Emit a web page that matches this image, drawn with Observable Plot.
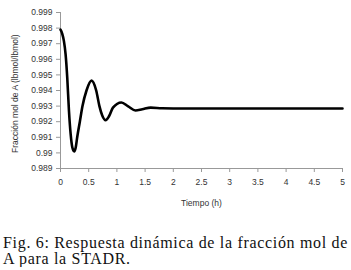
<!DOCTYPE html>
<html><head><meta charset="utf-8">
<script src="https://cdn.jsdelivr.net/npm/d3@7"></script>
<script src="https://cdn.jsdelivr.net/npm/@observablehq/plot@0.6"></script>
<style>
body{margin:0;background:#fff;}
#cap{font-family:"Liberation Serif","DejaVu Serif",serif;font-size:16px;letter-spacing:0.68px;line-height:16px;color:#111;margin:25px 0 0 3px;white-space:nowrap;}
</style>
</head><body>
<div id="chart"></div>
<div id="cap">Fig. 6: Respuesta dinámica de la fracción mol de<br>A para la STADR.</div>
<script>
const tiempo = [0,0.03,0.06,0.09,0.12,0.15,0.18,0.21,0.243,0.27,0.296,0.343,0.39,0.461,0.55,0.633,0.69,0.74,0.80,0.86,0.93,1.08,1.2,1.33,1.45,1.6,1.8,2.0,3,4,5];
const fraccion = [0.99790,0.99765,0.99718,0.99633,0.99480,0.99270,0.99120,0.99035,0.99010,0.99035,0.99100,0.99200,0.99300,0.99400,0.99463,0.99400,0.99300,0.99240,0.99210,0.99235,0.99290,0.99323,0.99298,0.99272,0.99280,0.99290,0.99286,0.99285,0.99285,0.99285,0.99285];
const xTicks = [0,0.5,1,1.5,2,2.5,3,3.5,4,4.5,5];
const yTicks = [0.989,0.990,0.991,0.992,0.993,0.994,0.995,0.996,0.997,0.998,0.999];
const data = tiempo.map((t,i)=>({t, f: fraccion[i]}));
const yFmt = d=>d3.format(".3f")(d).replace(/0+$/,"").replace(/\.$/,"");
const chart = Plot.plot({
  width:351, height:210,
  marginTop:12, marginBottom:42, marginLeft:60, marginRight:9,
  style:{fontFamily:"'Liberation Sans', sans-serif", fontSize:"8.5px", color:"#333", background:"#fff"},
  x:{domain:[0,5], label:null},
  y:{domain:[0.989,0.999], label:null},
  marks:[
    Plot.ruleY([0.989],{stroke:"#999"}),
    Plot.ruleX([0],{stroke:"#999"}),
    Plot.axisX({ticks:xTicks, tickFormat:d=>String(d), tickSize:4, tickPadding:6, stroke:"#999", fill:"#333", label:null}),
    Plot.axisY({ticks:yTicks, tickFormat:yFmt, tickSize:4, tickPadding:4, stroke:"#999", fill:"#333", label:null}),
    Plot.text(["Tiempo (h)"],{x:2.5, y:0.989, dy:35, fill:"#333", fontSize:8.5}),
    Plot.text(["Fracción mol de A (lbmol/lbmol)"],{x:0, y:0.9938, dx:-45, rotate:-90, fill:"#333", fontSize:8.5}),
    Plot.line(data,{x:"t", y:"f", curve:"monotone-x", stroke:"#000", strokeWidth:2.6})
  ]
});
document.getElementById("chart").appendChild(chart);
</script>
</body></html>
